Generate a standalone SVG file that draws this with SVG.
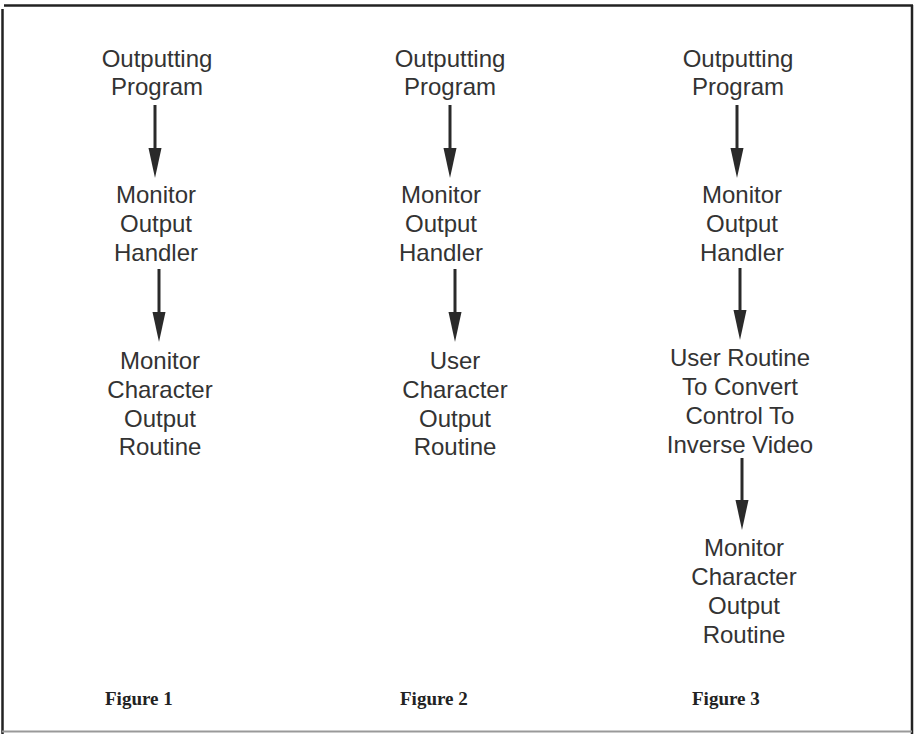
<svg xmlns="http://www.w3.org/2000/svg" width="916" height="734" viewBox="0 0 916 734">
<style>
.t{font-family:"Liberation Sans",Arial,sans-serif;font-size:24px;fill:#333;text-anchor:middle}
.f{font-family:"Liberation Serif","Times New Roman",serif;font-size:19px;font-weight:bold;fill:#222}
.sh{stroke:#2a2a2a;stroke-width:3;fill:none}
.hd{fill:#2a2a2a}
.b{stroke:#222;stroke-width:2.5;fill:none}
</style>
<defs>
<path id="ah" d="M-6.5,-30 L6.5,-30 L0,0 Z"/>
</defs>
<rect width="916" height="734" fill="#fff"/>
<g id="border">
<line class="b" x1="4" y1="5.5" x2="913" y2="5.5"/>
<line class="b" x1="2.5" y1="9" x2="2.5" y2="734"/>
<line class="b" x1="912" y1="5" x2="912" y2="734"/>
<line x1="2" y1="731.5" x2="912" y2="731.5" stroke="#999" stroke-width="2"/>
</g>
<g id="fig1">
<g id="f1-out"><text class="t" x="157" y="67">Outputting</text><text class="t" x="157" y="95">Program</text></g>
<g id="f1-mon"><text class="t" x="156" y="203">Monitor</text><text class="t" x="156" y="232">Output</text><text class="t" x="156" y="261">Handler</text></g>
<g id="f1-chr"><text class="t" x="160" y="369">Monitor</text><text class="t" x="160" y="398">Character</text><text class="t" x="160" y="427">Output</text><text class="t" x="160" y="455">Routine</text></g>
<text id="f1-label" class="f" x="105" y="705">Figure 1</text>
</g>
<g id="fig2">
<g id="f2-out"><text class="t" x="450" y="67">Outputting</text><text class="t" x="450" y="95">Program</text></g>
<g id="f2-mon"><text class="t" x="441" y="203">Monitor</text><text class="t" x="441" y="232">Output</text><text class="t" x="441" y="261">Handler</text></g>
<g id="f2-usr"><text class="t" x="455" y="369">User</text><text class="t" x="455" y="398">Character</text><text class="t" x="455" y="427">Output</text><text class="t" x="455" y="455">Routine</text></g>
<text id="f2-label" class="f" x="400" y="705">Figure 2</text>
</g>
<g id="fig3">
<g id="f3-out"><text class="t" x="738" y="67">Outputting</text><text class="t" x="738" y="95">Program</text></g>
<g id="f3-mon"><text class="t" x="742" y="203">Monitor</text><text class="t" x="742" y="232">Output</text><text class="t" x="742" y="261">Handler</text></g>
<g id="f3-usr"><text class="t" x="740" y="366">User Routine</text><text class="t" x="740" y="395">To Convert</text><text class="t" x="740" y="424">Control To</text><text class="t" x="740" y="453">Inverse Video</text></g>
<g id="f3-chr"><text class="t" x="744" y="556">Monitor</text><text class="t" x="744" y="585">Character</text><text class="t" x="744" y="614">Output</text><text class="t" x="744" y="643">Routine</text></g>
<text id="f3-label" class="f" x="692" y="705">Figure 3</text>
</g>
<g id="connectors">
<line class="sh" x1="155" y1="105" x2="155" y2="150"/><use href="#ah" class="hd" x="155" y="178"/>
<line class="sh" x1="159" y1="269" x2="159" y2="314"/><use href="#ah" class="hd" x="159" y="342"/>
<line class="sh" x1="450" y1="105" x2="450" y2="150"/><use href="#ah" class="hd" x="450" y="178"/>
<line class="sh" x1="455" y1="269" x2="455" y2="314"/><use href="#ah" class="hd" x="455" y="342"/>
<line class="sh" x1="737" y1="105" x2="737" y2="150"/><use href="#ah" class="hd" x="737" y="178"/>
<line class="sh" x1="740" y1="268" x2="740" y2="312"/><use href="#ah" class="hd" x="740" y="340"/>
<line class="sh" x1="742" y1="458" x2="742" y2="502"/><use href="#ah" class="hd" x="742" y="530"/>
</g>
</svg>
